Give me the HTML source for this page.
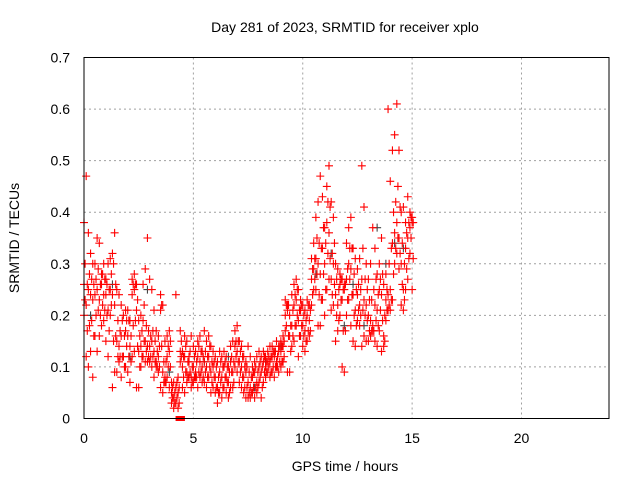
<!DOCTYPE html>
<html><head><meta charset="utf-8"><style>
body{margin:0;background:#fff}
svg{display:block;font-family:"Liberation Sans",sans-serif}
</style></head><body>
<svg id="chart" width="640" height="480">
<text x="345" y="32" text-anchor="middle" font-size="14">Day 281 of 2023, SRMTID for receiver xplo</text>
<text x="345" y="471" text-anchor="middle" font-size="14">GPS time / hours</text>
<text transform="translate(19,238) rotate(-90)" text-anchor="middle" font-size="14">SRMTID / TECUs</text>
<g id="grid"></g><g id="ticks"></g><g id="marks"></g>
<rect x="84" y="57.5" width="525" height="361" fill="none" stroke="#000" stroke-width="1"/>
</svg>
<script>
const xTicks=[0,5,10,15,20];
const yTicks=[0,0.1,0.2,0.3,0.4,0.5,0.6,0.7];
const yTickLabels=["0","0.1","0.2","0.3","0.4","0.5","0.6","0.7"];
const times=[0,0.1,0.2,0.3,0.4,0.5,0.6,0.7,0.8,0.9,1,1.1,1.2,1.3,1.4,1.5,1.6,1.7,1.8,1.9,2,2.1,2.2,2.3,2.4,2.5,2.6,2.7,2.8,2.9,3,3.1,3.2,3.3,3.4,3.5,3.6,3.7,3.8,3.9,4,4.1,4.2,4.3,4.4,4.5,4.6,4.7,4.8,4.9,5,5.1,5.2,5.3,5.4,5.5,5.6,5.7,5.8,5.9,6,6.1,6.2,6.3,6.4,6.5,6.6,6.7,6.8,6.9,7,7.1,7.2,7.3,7.4,7.5,7.6,7.7,7.8,7.9,8,8.1,8.2,8.3,8.4,8.5,8.6,8.7,8.8,8.9,9,9.1,9.2,9.3,9.4,9.5,9.6,9.7,9.8,9.9,10,10.1,10.2,10.3,10.4,10.5,10.6,10.7,10.8,10.9,11,11.1,11.2,11.3,11.4,11.5,11.6,11.7,11.8,11.9,12,12.1,12.2,12.3,12.4,12.5,12.6,12.7,12.8,12.9,13,13.1,13.2,13.3,13.4,13.5,13.6,13.7,13.8,13.9,14,14.1,14.2,14.3,14.4,14.5,14.6,14.7,14.8,14.9,15];
const valuesMid=[.26,.22,.25,.24,.23,.24,.25,.23,.26,.24,.24,.21,.25,.24,.22,.15,.14,.16,.12,.17,.16,.14,.24,.25,.21,.13,.14,.19,.15,.14,.14,.15,.13,.11,.12,.21,.09,.08,.12,.13,.05,.04,.06,.05,.13,.10,.12,.09,.11,.08,.10,.09,.12,.11,.10,.11,.10,.12,.09,.10,.08,.06,.09,.08,.10,.08,.07,.11,.09,.14,.13,.11,.10,.08,.09,.07,.06,.08,.09,.07,.10,.09,.11,.10,.11,.11,.12,.12,.11,.13,.13,.14,.20,.21,.16,.18,.22,.23,.19,.21,.18,.17,.20,.19,.27,.29,.31,.30,.28,.33,.30,.38,.36,.27,.30,.24,.22,.26,.23,.25,.27,.30,.29,.24,.21,.24,.22,.27,.23,.22,.20,.19,.18,.22,.21,.25,.24,.16,.23,.24,.25,.34,.36,.38,.35,.30,.25,.33,.35,.37,.38];
const valuesHigh=[.38,.47,.36,.32,.30,.30,.35,.34,.28,.30,.27,.30,.31,.32,.36,.25,.24,.22,.20,.21,.21,.19,.27,.28,.26,.19,.20,.26,.29,.35,.27,.25,.21,.17,.16,.24,.22,.15,.16,.17,.07,.07,.24,.08,.17,.13,.16,.15,.12,.16,.14,.13,.15,.16,.13,.17,.15,.16,.14,.13,.12,.11,.13,.12,.13,.12,.10,.14,.15,.17,.18,.15,.14,.12,.11,.14,.12,.10,.11,.12,.13,.12,.13,.12,.13,.14,.14,.13,.15,.14,.15,.16,.23,.22,.20,.24,.26,.27,.25,.23,.22,.21,.23,.22,.31,.34,.39,.42,.47,.43,.37,.45,.49,.42,.39,.30,.29,.28,.27,.26,.34,.37,.39,.33,.31,.29,.31,.49,.41,.30,.27,.30,.37,.33,.28,.30,.35,.26,.28,.60,.46,.52,.55,.61,.52,.40,.41,.38,.43,.40,.39];
const valuesLow=[.20,.12,.10,.13,.08,.16,.13,.16,.18,.19,.15,.12,.20,.06,.09,.09,.11,.08,.12,.10,.09,.07,.12,.13,.06,.06,.10,.12,.11,.11,.11,.10,.08,.10,.09,.06,.05,.07,.08,.06,.03,.02,.03,.02,.11,.06,.05,.07,.08,.06,.07,.08,.06,.08,.07,.07,.06,.08,.05,.06,.05,.03,.05,.04,.06,.05,.04,.06,.06,.10,.09,.07,.06,.05,.04,.04,.04,.05,.04,.05,.07,.04,.07,.08,.09,.08,.09,.08,.10,.09,.10,.11,.17,.09,.09,.14,.15,.18,.12,.16,.14,.13,.15,.16,.22,.25,.25,.18,.18,.23,.20,.25,.27,.21,.22,.15,.17,.20,.10,.09,.20,.23,.18,.15,.14,.19,.18,.14,.16,.15,.15,.16,.17,.15,.14,.17,.13,.14,.19,.21,.21,.23,.30,.32,.29,.22,.21,.25,.27,.32,.25];
const valuesUpperMid=[.30,.26,.28,.27,.26,.27,.29,.26,.28,.27,.26,.25,.28,.30,.26,.19,.17,.19,.16,.19,.19,.16,.26,.26,.23,.16,.17,.22,.18,.17,.16,.17,.15,.13,.14,.22,.11,.11,.14,.15,.06,.05,.07,.06,.15,.12,.14,.11,.13,.10,.12,.11,.14,.13,.12,.13,.12,.14,.11,.11,.10,.08,.11,.10,.11,.10,.09,.12,.11,.15,.15,.13,.12,.10,.10,.09,.08,.09,.10,.09,.11,.10,.12,.11,.12,.12,.13,.13,.12,.14,.14,.15,.22,.22,.18,.21,.24,.25,.21,.22,.20,.19,.22,.21,.29,.31,.35,.34,.33,.37,.34,.42,.41,.32,.34,.27,.25,.27,.25,.26,.29,.33,.33,.28,.25,.26,.25,.33,.27,.25,.23,.23,.25,.27,.24,.27,.28,.20,.25,.30,.33,.40,.42,.45,.41,.34,.30,.36,.38,.39,.38];
const valuesLowerMid=[.23,.17,.18,.19,.16,.20,.21,.20,.22,.21,.20,.17,.22,.15,.16,.12,.12,.12,.10,.14,.12,.11,.18,.19,.14,.10,.12,.15,.13,.12,.12,.12,.11,.10,.10,.14,.07,.07,.10,.10,.04,.03,.04,.03,.12,.08,.09,.08,.09,.07,.08,.08,.09,.09,.08,.09,.08,.10,.07,.08,.06,.05,.07,.06,.08,.07,.05,.09,.07,.12,.11,.09,.08,.06,.06,.05,.05,.06,.06,.06,.08,.06,.09,.09,.10,.09,.10,.10,.10,.11,.11,.12,.18,.16,.13,.16,.18,.20,.16,.18,.16,.15,.17,.17,.24,.27,.28,.24,.23,.28,.25,.32,.31,.24,.26,.20,.19,.23,.17,.17,.23,.27,.24,.20,.18,.21,.20,.21,.20,.19,.17,.17,.17,.19,.18,.21,.19,.15,.21,.22,.23,.28,.33,.35,.32,.26,.23,.29,.31,.35,.31];
const grayTimes=[0.3,1.3,2.1,2.9,3.9,5.5,6.6,7.8,8.3,9.0,10.6,11.3,11.9,12.3,12.8,13.4,13.8,14.2,14.6];
const grayValues=[.20,.26,.12,.25,.09,.11,.12,.06,.11,.14,.28,.32,.18,.26,.18,.37,.30,.34,.33];
const zeroTimes=[4.3,4.5];
const zeroValues=[0,0];

const X=t=>84+t*(525/24);
const Y=v=>418.5-v*(361/0.7);
const NS="http://www.w3.org/2000/svg";
const grid=document.getElementById('grid'),ticks=document.getElementById('ticks'),marks=document.getElementById('marks');
function mk(tag,attrs,parent){const e=document.createElementNS(NS,tag);for(const k in attrs)e.setAttribute(k,attrs[k]);parent.appendChild(e);return e;}
xTicks.forEach(t=>{
  const x=X(t);
  if(t>0){const g=mk('line',{x1:x,x2:x,y1:57.5,y2:418.5,stroke:'#a0a0a0','stroke-dasharray':'2,3'},grid);
  
  }
  const tl=mk('text',{x:x,y:443,'text-anchor':'middle','font-size':14},ticks);
  tl.textContent=t;
  
  
});
yTicks.forEach((v,i)=>{
  const y=Y(v);
  if(v>0&&v<0.7){const g=mk('line',{x1:84,x2:609,y1:y,y2:y,stroke:'#a0a0a0','stroke-dasharray':'2,3'},grid);
  
  }
  const tl=mk('text',{x:70,y:y+5,'text-anchor':'end','font-size':14},ticks);
  tl.textContent=yTickLabels[i];
  
  
});
function plus(t,v,color,name){
  const x=X(t),y=Y(v);
  const p=mk('path',{d:`M${x-4},${y}h8M${x},${y-4}v8`,stroke:color,'stroke-width':1.1,fill:'none'},marks);
  
  
}
grayTimes.forEach((t,i)=>plus(t,grayValues[i],'#444','gray-point'));
times.forEach((t,i)=>{
  plus(t,valuesMid[i],'#f00','srmtid-point');
  plus(t,valuesHigh[i],'#f00','srmtid-point');
  plus(t,valuesLow[i],'#f00','srmtid-point');
  plus(t+0.05,valuesUpperMid[i],'#f00','srmtid-point');
  plus(t+0.05,valuesLowerMid[i],'#f00','srmtid-point');
});
zeroTimes.forEach((t,i)=>{
  const r=mk('rect',{x:X(t)-2.5,y:Y(zeroValues[i])-2.5,width:5,height:5,fill:'#f00'},marks);
  
  
});
</script>
</body></html>
